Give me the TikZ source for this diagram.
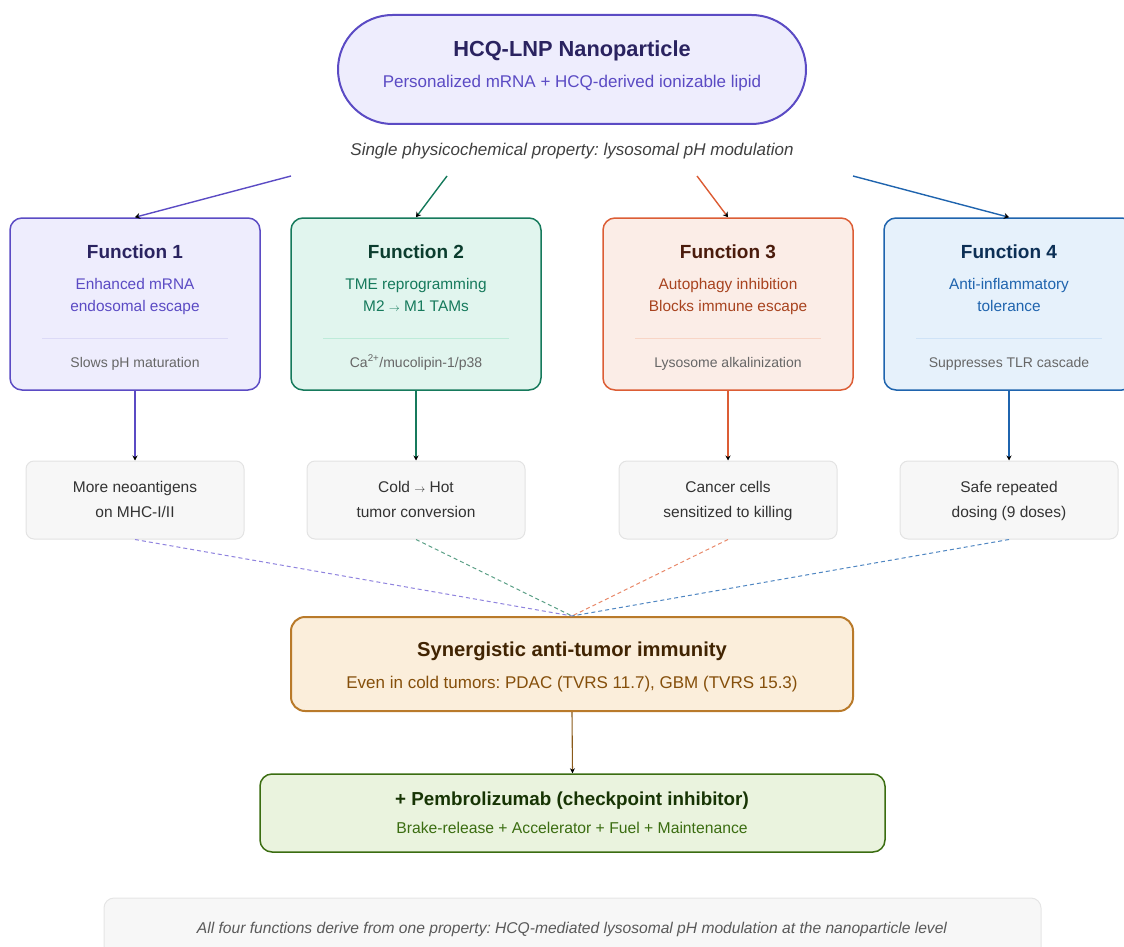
\documentclass[tikz,border=0pt]{standalone}
\usepackage{fontspec}
\setmainfont{Liberation Sans}
\usetikzlibrary{arrows.meta,shapes.misc}
\definecolor{pA}{HTML}{5B4BC4}\definecolor{pAf}{HTML}{EEEDFD}\definecolor{pAt}{HTML}{2A2360}\definecolor{pAd}{HTML}{DCDAF7}\definecolor{pAl}{HTML}{8F83DE}
\definecolor{gA}{HTML}{167A5C}\definecolor{gAf}{HTML}{E1F5EE}\definecolor{gAt}{HTML}{0B3D2E}\definecolor{gAd}{HTML}{BDEBD9}\definecolor{gAl}{HTML}{5A9F86}
\definecolor{oA}{HTML}{DC5D35}\definecolor{oAf}{HTML}{FBEDE7}\definecolor{oAt}{HTML}{4A1B0C}\definecolor{oAx}{HTML}{A8431F}\definecolor{oAd}{HTML}{F8D5C6}\definecolor{oAl}{HTML}{E8896A}
\definecolor{bA}{HTML}{1F64AE}\definecolor{bAf}{HTML}{E6F1FB}\definecolor{bAt}{HTML}{0C2F55}\definecolor{bAd}{HTML}{CFE3F7}\definecolor{bAl}{HTML}{4F86C2}
\definecolor{yA}{HTML}{B97A2A}\definecolor{yAf}{HTML}{FBEEDB}\definecolor{yAt}{HTML}{412402}\definecolor{yAx}{HTML}{854F0B}\definecolor{yAa}{HTML}{8A5A1A}
\definecolor{vA}{HTML}{3B6D11}\definecolor{vAf}{HTML}{EAF3DE}\definecolor{vAt}{HTML}{173404}\definecolor{vAx}{HTML}{3B6D11}
\definecolor{grF}{HTML}{F7F7F7}\definecolor{grD}{HTML}{E3E3E3}\definecolor{grT}{HTML}{333333}\definecolor{grM}{HTML}{666666}
\newcommand{\fs}[1]{\fontsize{#1}{#1}\selectfont}
\frenchspacing
\tikzset{
  funcbox/.style={draw=#1, line width=1.5pt, rounded corners=12pt, minimum width=250pt, minimum height=172pt, inner sep=0pt},
  outbox/.style={draw=grD, fill=grF, line width=1pt, rounded corners=8pt, minimum width=218pt, minimum height=78pt, inner sep=0pt},
  txt/.style={inner sep=0pt, anchor=base},
  ftitle/.style={txt, font=\fs{19}\bfseries},
  fsub/.style={txt, font=\fs{15.4}},
  ffoot/.style={txt, font=\fs{14}, text=grM},
  otext/.style={txt, font=\fs{15.5}, text=grT},
  toparrow/.style={line width=1.4pt, -{Stealth[length=5pt,width=6pt,black]}},
  downarrow/.style={line width=1.1pt, -{Stealth[length=5pt,width=5pt,black]}},
  dashline/.style={line width=1pt, dash pattern=on 4pt off 3pt},
}
\begin{document}
\begin{tikzpicture}[x=1pt,y=-1pt]
\useasboundingbox (0,0) rectangle (1124,947);
% top pill
\node[draw=pA, fill=pAf, line width=2pt, rounded rectangle, minimum width=468pt, minimum height=109pt, inner sep=0pt] (top) at (572,69.5) {};
\node[txt, font=\fs{21.8}\bfseries, text=pAt] (toptitle) at (572,57) {HCQ-LNP Nanoparticle};
\node[txt, font=\fs{17}, text=pA] (topsub) at (572,88) {Personalized mRNA + HCQ-derived ionizable lipid};
\node[txt, font=\fs{17}\itshape, text=black!75] (prop) at (572,156) {Single physicochemical property: lysosomal pH modulation};
% function boxes
\node[funcbox=pA, fill=pAf] (f1) at (135,304) {};
\node[funcbox=gA, fill=gAf] (f2) at (416,304) {};
\node[funcbox=oA, fill=oAf] (f3) at (728,304) {};
\node[funcbox=bA, fill=bAf] (f4) at (1009,304) {};
% texts
\node[ftitle, text=pAt] (f1t) at (135,258) {Function 1};
\node[fsub, text=pA] (f1a) at (135,289) {Enhanced mRNA};
\node[fsub, text=pA] (f1b) at (135,311) {endosomal escape};
\node[ffoot] (f1c) at (135,367) {Slows pH maturation};
\node[ftitle, text=gAt] (f2t) at (416,258) {Function 2};
\node[fsub, text=gA] (f2a) at (416,289) {TME reprogramming};
\node[fsub, text=gA] (f2b) at (416,311) {M2 {\fs{11}$\rightarrow$} M1 TAMs};
\node[ffoot] (f2c) at (416,367) {Ca\textsuperscript{2+}/mucolipin-1/p38};
\node[ftitle, text=oAt] (f3t) at (728,258) {Function 3};
\node[fsub, text=oAx] (f3a) at (728,289) {Autophagy inhibition};
\node[fsub, text=oAx] (f3b) at (728,311) {Blocks immune escape};
\node[ffoot] (f3c) at (728,367) {Lysosome alkalinization};
\node[ftitle, text=bAt] (f4t) at (1009,258) {Function 4};
\node[fsub, text=bA] (f4a) at (1009,289) {Anti-inflammatory};
\node[fsub, text=bA] (f4b) at (1009,311) {tolerance};
\node[ffoot] (f4c) at (1009,367) {Suppresses TLR cascade};
% dividers
\draw[pAd, line width=1pt] (42,338) -- (228,338);
\draw[gAd, line width=1pt] (323,338) -- (509,338);
\draw[oAd, line width=1pt] (635,338) -- (821,338);
\draw[bAd, line width=1pt] (916,338) -- (1102,338);
% top arrows
\coordinate (s1) at (291,176);
\coordinate (s2) at (447,176);
\coordinate (s3) at (697,176);
\coordinate (s4) at (853,176);
\draw[toparrow, pA] (s1) -- (f1.north);
\draw[toparrow, gA] (s2) -- (f2.north);
\draw[toparrow, oA] (s3) -- (f3.north);
\draw[toparrow, bA] (s4) -- (f4.north);
% outcome boxes
\node[outbox] (o1) at (135,500) {};
\node[outbox] (o2) at (416,500) {};
\node[outbox] (o3) at (728,500) {};
\node[outbox] (o4) at (1009,500) {};
\node[otext] (o1a) at (135,492.5) {More neoantigens};
\node[otext] (o1b) at (135,517.5) {on MHC-I/II};
\node[otext] (o2a) at (416,492.5) {Cold {\fs{11}$\rightarrow$} Hot};
\node[otext] (o2b) at (416,517.5) {tumor conversion};
\node[otext] (o3a) at (728,492.5) {Cancer cells};
\node[otext] (o3b) at (728,517.5) {sensitized to killing};
\node[otext] (o4a) at (1009,492.5) {Safe repeated};
\node[otext] (o4b) at (1009,517.5) {dosing (9 doses)};
\draw[downarrow, pA] (f1.south) -- (o1.north);
\draw[downarrow, gA] (f2.south) -- (o2.north);
\draw[downarrow, oA] (f3.south) -- (o3.north);
\draw[downarrow, bA] (f4.south) -- (o4.north);
% synergy
\node[draw=yA, fill=yAf, line width=2pt, rounded corners=14pt, minimum width=562pt, minimum height=94pt, inner sep=0pt] (syn) at (572,664) {};
\node[txt, font=\fs{20.2}\bfseries, text=yAt] (synt) at (572,656.3) {Synergistic anti-tumor immunity};
\node[txt, font=\fs{17}, text=yAx] (syns) at (572,688) {Even in cold tumors: PDAC (TVRS 11.7), GBM (TVRS 15.3)};
\draw[dashline, pAl] (o1.south) -- (syn.north);
\draw[dashline, gAl] (o2.south) -- (syn.north);
\draw[dashline, oAl] (o3.south) -- (syn.north);
\draw[dashline, bAl] (o4.south) -- (syn.north);
% pembro
\node[draw=vA, fill=vAf, line width=1.5pt, rounded corners=12pt, minimum width=625pt, minimum height=78pt, inner sep=0pt] (pem) at (572.5,813) {};
\node[txt, font=\fs{18.8}\bfseries, text=vAt] (pemt) at (572,805.8) {+ Pembrolizumab (checkpoint inhibitor)};
\node[txt, font=\fs{15.7}, text=vAx] (pems) at (572,833.6) {Brake-release + Accelerator + Fuel + Maintenance};
\draw[downarrow, yAa] (syn.south) -- (pem.north);
% bottom banner
\node[draw=black!10, fill=black!3, line width=1pt, rounded corners=10pt, minimum width=937pt, minimum height=64pt, inner sep=0pt] (note) at (572.5,930) {};
\node[txt, font=\fs{15.6}\itshape, text=black!65] (notet) at (572,933.6) {All four functions derive from one property: HCQ-mediated lysosomal pH modulation at the nanoparticle level};
\end{tikzpicture}
\end{document}
